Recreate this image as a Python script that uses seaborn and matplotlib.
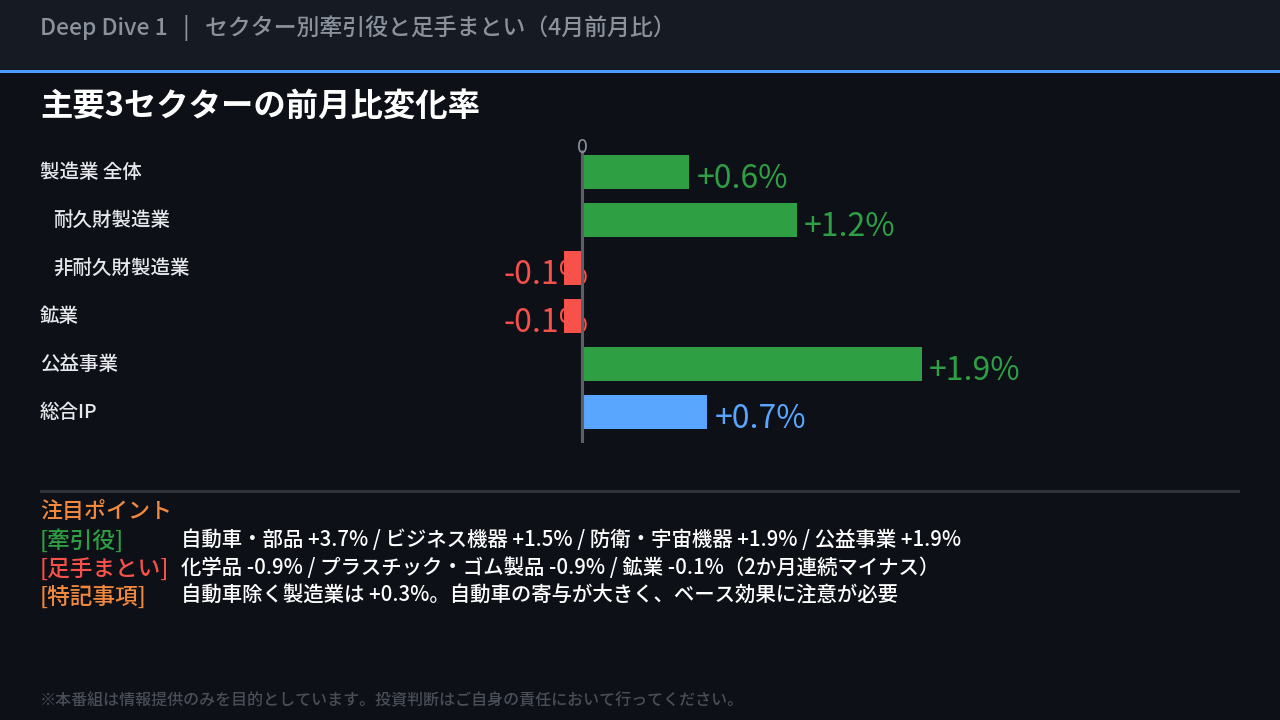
import matplotlib
matplotlib.use("Agg")
import matplotlib.pyplot as plt
import matplotlib.transforms as mtransforms
from matplotlib.patches import Rectangle
import seaborn as sns
import pandas as pd

# ---- data ----
categories = ["製造業 全体", "耐久財製造業", "非耐久財製造業", "鉱業", "公益事業", "総合IP"]
label_indent = [0, 1, 1, 0, 0, 0]
values = [0.6, 1.2, -0.1, -0.1, 1.9, 0.7]
value_labels = ["+0.6%", "+1.2%", "-0.1%", "-0.1%", "+1.9%", "+0.7%"]
bar_colors = ["#2ea043", "#2ea043", "#f85149", "#f85149", "#2ea043", "#58a6ff"]

header_text = "Deep Dive 1   |   セクター別牽引役と足手まとい（4月前月比）"
title_text = "主要3セクターの前月比変化率"
point_title = "注目ポイント"
point_tags = ["[牽引役]", "[足手まとい]", "[特記事項]"]
point_texts = [
    "自動車・部品 +3.7% / ビジネス機器 +1.5% / 防衛・宇宙機器 +1.9% / 公益事業 +1.9%",
    "化学品 -0.9% / プラスチック・ゴム製品 -0.9% / 鉱業 -0.1%（2か月連続マイナス）",
    "自動車除く製造業は +0.3%。自動車の寄与が大きく、ベース効果に注意が必要",
]
footer_text = "※本番組は情報提供のみを目的としています。投資判断はご自身の責任において行ってください。"

BG = "#0d1017"
HEADER_BG = "#161a22"

sns.set_theme(style="dark")
plt.rcParams["font.family"] = ["Noto Sans CJK JP", "DejaVu Sans"]

W, H = 1280, 720
fig = plt.figure(figsize=(12.8, 7.2), dpi=100, facecolor=BG)

def fy(px):
    return 1 - px / H

def fx(px):
    return px / W

# header band
fig.patches.append(Rectangle((0, fy(70)), 1, 70 / H, transform=fig.transFigure,
                             facecolor=HEADER_BG, edgecolor="none", zorder=0))
fig.patches.append(Rectangle((0, fy(73)), 1, 3 / H, transform=fig.transFigure,
                             facecolor="#4a9eff", edgecolor="none", zorder=1))
fig.text(fx(40), fy(28), header_text, color="#8b929c", fontsize=16.5,
         fontweight="medium", va="center", ha="left")
fig.text(fx(40), fy(106), title_text, color="#ffffff", fontsize=23.3,
         fontweight="bold", va="center", ha="left")

# axes
ax_left, ax_right = 480, 1100
ax_top, ax_bot = 145, 443
ax = fig.add_axes([fx(ax_left), fy(ax_bot), (ax_right - ax_left) / W, (ax_bot - ax_top) / H])
ax.set_facecolor("none")

df = pd.DataFrame({"cat": categories, "val": values})
sns.barplot(data=df, x="val", y="cat", hue="cat", palette=bar_colors, orient="h",
            width=0.71, legend=False, ax=ax, saturation=1, linewidth=0, zorder=3)

px_per_unit = 179.0
xmin = -(582 - ax_left) / px_per_unit
xmax = (ax_right - 582) / px_per_unit
ax.set_xlim(xmin, xmax)
ax.set_ylim(5 + 31 / 48, -27 / 48)
for s in ax.spines.values():
    s.set_visible(False)
ax.set_xticks([])
ax.set_yticks([])
ax.set_xlabel("")
ax.set_ylabel("")
ax.grid(False)

ax.axvline(0, ymax=0.98, color="#5a5f68", lw=2.2, zorder=4)
ax.text(0, -27 / 48 + 0.06, "0", color="#8b929c", fontsize=14, ha="center", va="center", zorder=5)

for i, (v, lab, c) in enumerate(zip(values, value_labels, bar_colors)):
    if v >= 0:
        ax.annotate(lab, xy=(v, i), xytext=(7, -7), textcoords="offset pixels",
                    ha="left", va="center", color=c, fontsize=23, zorder=5)
    else:
        ax.annotate(lab, xy=(v, i), xytext=(-61, -7), textcoords="offset pixels",
                    ha="left", va="center", color=c, fontsize=23, zorder=1)

# category labels
trans = mtransforms.blended_transform_factory(fig.transFigure, ax.transData)
for i, (lab, ind) in enumerate(zip(categories, label_indent)):
    ax.text(fx(40 + 13 * ind), i, lab, transform=trans, color="#e6e8eb", fontsize=14,
            fontweight="medium", ha="left", va="center")

# separator
fig.patches.append(Rectangle((fx(40), fy(493)), 1200 / W, 3 / H, transform=fig.transFigure,
                             facecolor="#30343c", edgecolor="none"))

fig.text(fx(40), fy(512), point_title, color="#f0883e", fontsize=15.8,
         fontweight="medium", ha="left", va="center")
tag_colors = ["#2ea043", "#f85149", "#f0883e"]
for k, (tag, txt, tc) in enumerate(zip(point_tags, point_texts, tag_colors)):
    y = 541 + 28 * k
    fig.text(fx(40), fy(y), tag, color=tc, fontsize=16.3, fontweight="medium",
             ha="left", va="center")
    fig.text(fx(181), fy(y - 1), txt, color="#ffffff", fontsize=14.7, fontweight="medium",
             ha="left", va="center")

fig.text(fx(40), fy(701), footer_text, color="#4a4f57", fontsize=11.5, fontweight="medium",
         ha="left", va="center")

fig.savefig("out.png", dpi=100, facecolor=BG)
